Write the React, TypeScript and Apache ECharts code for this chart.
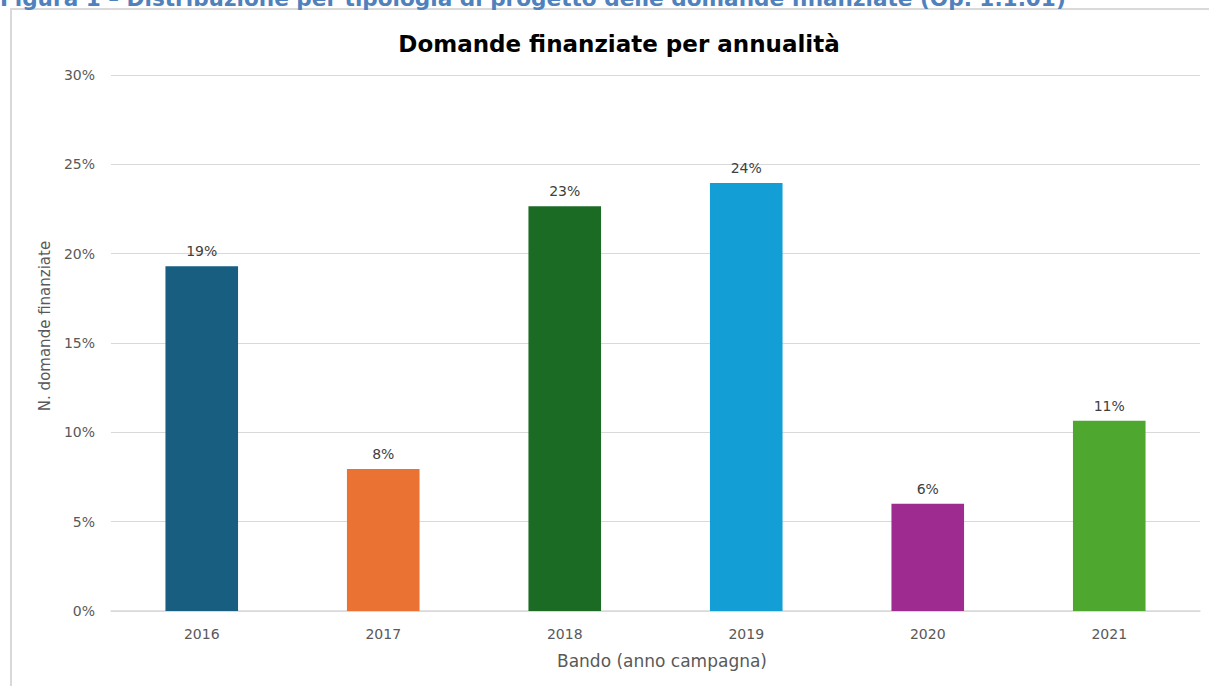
import React, { useEffect, useRef } from "react";
import * as echarts from "echarts";

const categories = ["2016", "2017", "2018", "2019", "2020", "2021"];
const values = [19.3, 7.95, 22.65, 23.95, 6.0, 10.65];
const labels = ["19%", "8%", "23%", "24%", "6%", "11%"];
const colors = ["#175E80", "#EA7334", "#1B6B25", "#139ED6", "#9E2B8F", "#4EA72E"];
const yTicks = [0, 5, 10, 15, 20, 25, 30];

const FONT = "DejaVu Sans";

export default function App() {
  const ref = useRef<HTMLDivElement>(null);
  useEffect(() => {
    const chart = echarts.init(ref.current!, undefined, { renderer: "svg" });
    chart.setOption({
      animation: false,
      backgroundColor: "#ffffff",
      textStyle: { fontFamily: FONT },
      title: {
        text: "Domande finanziate per annualità",
        left: 614,
        textAlign: "center",
        top: 27,
        textStyle: { fontFamily: FONT, fontWeight: "bold", fontSize: 23, color: "#000000" },
      },
      graphic: [
        {
          type: "rect",
          shape: { x: 11, y: 9, width: 1220, height: 700 },
          style: { fill: "none", stroke: "#d9d9d9", lineWidth: 2 },
          z: 0,
        },
        {
          type: "text",
          x: 0,
          y: -13,
          style: {
            text: "Figura 1 – Distribuzione per tipologia di progetto delle domande finanziate (Op. 1.1.01)",
            fill: "#4F81BD",
            font: "bold 21.6px " + FONT,
            textVerticalAlign: "top",
          },
          z: 10,
        },
        {
          type: "text",
          x: 45,
          y: 326,
          rotation: Math.PI / 2,
          style: {
            text: "N. domande finanziate",
            fill: "#595959",
            font: "15px " + FONT,
            textAlign: "center",
            textVerticalAlign: "middle",
          },
        },
        {
          type: "text",
          x: 662,
          y: 661,
          style: {
            text: "Bando (anno campagna)",
            fill: "#595959",
            font: "17px " + FONT,
            textAlign: "center",
            textVerticalAlign: "middle",
          },
        },
      ],
      grid: { left: 111, right: 9, top: 75, bottom: 75 },
      xAxis: {
        type: "category",
        data: categories,
        axisLine: { lineStyle: { color: "#d9d9d9", width: 1.5 } },
        axisTick: { show: false },
        axisLabel: { fontFamily: FONT, fontSize: 14, color: "#595959", margin: 16 },
      },
      yAxis: {
        type: "value",
        min: 0,
        max: 30,
        interval: 5,
        axisLine: { show: false },
        axisTick: { show: false },
        splitLine: { lineStyle: { color: "#d9d9d9", width: 1 } },
        axisLabel: {
          fontFamily: FONT,
          fontSize: 14,
          color: "#595959",
          margin: 16,
          formatter: (v: number) => (yTicks.includes(v) ? v + "%" : ""),
        },
      },
      series: [
        {
          type: "bar",
          barWidth: "40%",
          data: values.map((v, i) => ({ value: v, itemStyle: { color: colors[i] } })),
          label: {
            show: true,
            position: "top",
            distance: 8,
            fontFamily: FONT,
            fontSize: 14,
            color: "#404040",
            formatter: (p: any) => labels[p.dataIndex],
          },
        },
      ],
    });
    return () => chart.dispose();
  }, []);
  return (
    <div
      ref={ref}
      style={{ position: "fixed", left: 0, top: 0, width: 1209, height: 686 }}
    />
  );
}
